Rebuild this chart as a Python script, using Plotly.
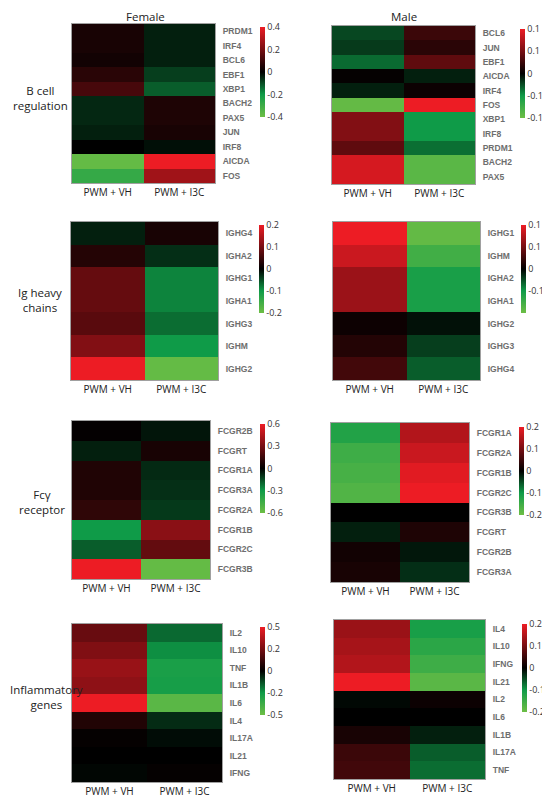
import plotly.graph_objects as go

# the page body has an 8px margin, so the figure is drawn 8px in from the corner
PAGE_W, PAGE_H = 550, 797
OFF = 8
W, H = PAGE_W - OFF, PAGE_H - OFF
CB_SHIFT = 3  # colorbar box sits a few px right of its anchor

groups = ["PWM + VH", "PWM + I3C"]

# B cell regulation
f_bcell_genes = ["PRDM1", "IRF4", "BCL6", "EBF1", "XBP1", "BACH2", "PAX5", "JUN", "IRF8", "AICDA", "FOS"]
f_bcell_vh = [0.04, 0.04, 0.03, 0.07, 0.12, -0.05, -0.05, -0.04, 0.0, -0.38, -0.28]
f_bcell_i3c = [-0.04, -0.04, -0.04, -0.08, -0.12, 0.05, 0.05, 0.04, -0.02, 0.4, 0.27]
f_bcell_ticks = ["0.4", "0.2", "0", "-0.2", "-0.4"]

m_bcell_genes = ["BCL6", "JUN", "EBF1", "AICDA", "IRF4", "FOS", "XBP1", "IRF8", "PRDM1", "BACH2", "PAX5"]
m_bcell_vh = [-0.032, -0.026, -0.048, 0.003, -0.014, -0.133, 0.077, 0.077, 0.056, 0.126, 0.126]
m_bcell_i3c = [0.035, 0.025, 0.056, -0.014, 0.007, 0.14, -0.07, -0.07, -0.05, -0.126, -0.126]
m_bcell_ticks = ["0.1", "0.1", "0", "-0.1", "-0.1"]

# Ig heavy chains
f_ig_genes = ["IGHG4", "IGHA2", "IGHG1", "IGHA1", "IGHG3", "IGHM", "IGHG2"]
f_ig_vh = [-0.02, 0.03, 0.085, 0.085, 0.075, 0.11, 0.2]
f_ig_i3c = [0.02, -0.03, -0.085, -0.085, -0.07, -0.1, -0.19]
f_ig_ticks = ["0.2", "0.1", "0", "-0.1", "-0.2"]

m_ig_genes = ["IGHG1", "IGHM", "IGHA2", "IGHA1", "IGHG2", "IGHG3", "IGHG4"]
m_ig_vh = [0.15, 0.128, 0.098, 0.098, 0.008, 0.022, 0.042]
m_ig_i3c = [-0.142, -0.115, -0.083, -0.083, -0.008, -0.03, -0.045]
m_ig_ticks = ["0.1", "0.1", "0", "-0.1", ""]

# Fcy receptor
f_fc_genes = ["FCGR2B", "FCGRT", "FCGR1A", "FCGR3A", "FCGR2A", "FCGR1B", "FCGR2C", "FCGR3B"]
f_fc_vh = [0.01, -0.06, 0.08, 0.08, 0.12, -0.3, -0.18, 0.6]
f_fc_i3c = [-0.04, 0.06, -0.08, -0.09, -0.11, 0.35, 0.25, -0.57]
f_fc_ticks = ["0.6", "0.3", "0", "-0.3", "-0.6"]

m_fc_genes = ["FCGR1A", "FCGR2A", "FCGR1B", "FCGR2C", "FCGR3B", "FCGRT", "FCGR2B", "FCGR3A"]
m_fc_vh = [-0.12, -0.15, -0.16, -0.17, 0.0, -0.02, 0.015, 0.02]
m_fc_i3c = [0.15, 0.17, 0.19, 0.2, 0.0, 0.025, -0.015, -0.03]
m_fc_ticks = ["0.2", "0.1", "0", "-0.1", "-0.2"]

# Inflammatory genes
f_inf_genes = ["IL2", "IL10", "TNF", "IL1B", "IL6", "IL4", "IL17A", "IL21", "IFNG"]
f_inf_vh = [0.22, 0.27, 0.32, 0.3, 0.5, 0.07, 0.01, 0.0, -0.01]
f_inf_i3c = [-0.17, -0.23, -0.28, -0.27, -0.45, -0.07, -0.02, 0.0, 0.01]
f_inf_ticks = ["0.5", "0.2", "0", "-0.2", "-0.5"]

m_inf_genes = ["IL4", "IL10", "IFNG", "IL21", "IL2", "IL6", "IL1B", "IL17A", "TNF"]
m_inf_vh = [0.13, 0.14, 0.15, 0.2, -0.005, 0.0, 0.02, 0.05, 0.055]
m_inf_i3c = [-0.11, -0.13, -0.15, -0.18, 0.01, 0.0, -0.02, -0.06, -0.07]
m_inf_ticks = ["0.2", "0.1", "0", "-0.1", "-0.2"]

section_labels = ["B cell<br>regulation", "Ig heavy<br>chains", "Fcγ<br>receptor", "Inflammatory<br>genes"]

colorscale = [
    [0.0, "#6dbe45"],
    [0.25, "#0f9b48"],
    [0.5, "#000000"],
    [1.0, "#ed1c24"],
]

# page-pixel boxes: heatmap (x0, x1, y0, y1), colorbar (x, y0, y1)
panels = [
    (f_bcell_genes, f_bcell_vh, f_bcell_i3c, f_bcell_ticks, 0.4, (72, 215, 24, 183), (263, 27, 117)),
    (m_bcell_genes, m_bcell_vh, m_bcell_i3c, m_bcell_ticks, 0.14, (332, 475, 26, 184), (523, 29, 118)),
    (f_ig_genes, f_ig_vh, f_ig_i3c, f_ig_ticks, 0.2, (71, 218, 222, 380), (262, 225, 313)),
    (m_ig_genes, m_ig_vh, m_ig_i3c, m_ig_ticks, 0.15, (333, 480, 222, 380), (524, 225, 313)),
    (f_fc_genes, f_fc_vh, f_fc_i3c, f_fc_ticks, 0.6, (72, 210, 421, 579), (263, 424, 513)),
    (m_fc_genes, m_fc_vh, m_fc_i3c, m_fc_ticks, 0.2, (331, 469, 423, 582), (522, 427, 515)),
    (f_inf_genes, f_inf_vh, f_inf_i3c, f_inf_ticks, 0.5, (72, 222, 624, 782), (263, 627, 715)),
    (m_inf_genes, m_inf_vh, m_inf_i3c, m_inf_ticks, 0.2, (334, 485, 620, 779), (525, 624, 712)),
]


def px(x):
    return (x - OFF) / W


def py(y):
    return 1 - (y - OFF) / H


fig = go.Figure()
layout = {}

for i, (genes, vh, i3c, ticks, zmax, box, cb) in enumerate(panels):
    n = i + 1
    xa = "x" if n == 1 else f"x{n}"
    ya = "y" if n == 1 else f"y{n}"
    z = [[a, b] for a, b in zip(vh, i3c)]
    fig.add_trace(go.Heatmap(
        z=z, x=groups, y=genes,
        xaxis=xa, yaxis=ya,
        zmin=-zmax, zmax=zmax,
        colorscale=colorscale,
        colorbar=dict(
            x=px(cb[0] - CB_SHIFT), xanchor="left", xpad=0,
            y=py((cb[1] + cb[2]) / 2), yanchor="middle", ypad=0,
            len=cb[2] - cb[1], lenmode="pixels",
            thickness=5, thicknessmode="pixels",
            outlinewidth=0,
            tickvals=[zmax, zmax / 2, 0, -zmax / 2, -zmax],
            ticktext=ticks,
            ticks="", ticklabelposition="outside",
            tickfont=dict(family="Open Sans", size=9, color="#333333"),
        ),
        hoverinfo="skip",
    ))
    x0, x1, y0, y1 = box
    axis_line = dict(showline=True, mirror=True, linecolor="#a0a0a0", linewidth=1,
                     showgrid=False, zeroline=False)
    layout["xaxis" if n == 1 else f"xaxis{n}"] = dict(
        domain=[px(x0), px(x1)], anchor=ya, side="bottom",
        ticks="", ticklabelstandoff=0,
        tickfont=dict(family="Open Sans", size=10, color="#222222"),
        **axis_line,
    )
    layout["yaxis" if n == 1 else f"yaxis{n}"] = dict(
        domain=[py(y1), py(y0)], anchor=xa, side="right",
        autorange="reversed",
        ticks="outside", ticklen=5, tickcolor="rgba(0,0,0,0)",
        tickfont=dict(family="Liberation Sans", size=8.5, color="#6e6e6e", weight="bold"),
        **axis_line,
    )

text_font = dict(family="Open Sans", size=11.5, color="#222222")
annotations = [
    dict(text="Female", x=px(145), y=py(17)),
    dict(text="Male", x=px(404), y=py(17)),
]
for label, xc, yc in zip(section_labels, [40, 40, 42, 38], [98, 300, 502, 697]):
    annotations.append(dict(text=label, x=px(xc), y=py(yc)))
for a in annotations:
    a.update(xref="paper", yref="paper", showarrow=False,
             xanchor="center", yanchor="middle", font=text_font)
# widest label would spill past the left edge of the figure, pin it there instead
annotations[-1].update(x=0, xanchor="left")

fig.update_layout(
    width=W, height=H, autosize=False,
    margin=dict(l=0, r=0, t=0, b=0, autoexpand=False),
    paper_bgcolor="white", plot_bgcolor="white",
    annotations=annotations,
    **layout,
)

fig.write_html("out.html")
